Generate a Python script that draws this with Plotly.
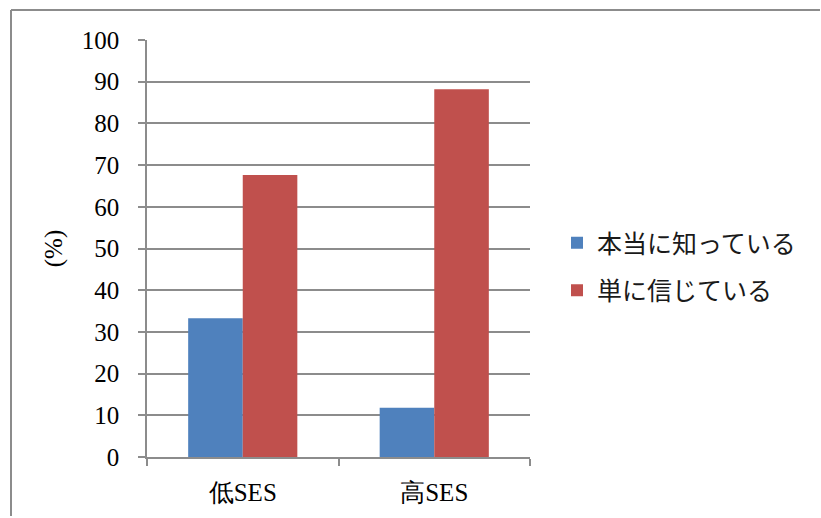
import plotly.graph_objects as go

# Data
categories = ["低SES", "高SES"]
series_names = ["本当に知っている", "単に信じている"]
truly_know = [33.3, 11.8]
just_believe = [67.6, 88.2]
y_ticks = [0, 10, 20, 30, 40, 50, 60, 70, 80, 90, 100]

W, H = 821, 518
ML, MR, MT, MB = 147, 291, 40, 61
PW, PH = W - ML - MR, H - MT - MB

serif = "Liberation Serif, Times New Roman, serif"
gothic = "Noto Sans CJK JP"

fig = go.Figure()
fig.add_trace(go.Bar(x=categories, y=truly_know, name=series_names[0],
                     marker=dict(color="#4F81BD", line=dict(width=0)),
                     legendgroup="a"))
fig.add_trace(go.Bar(x=categories, y=just_believe, name=series_names[1],
                     marker=dict(color="#C0504D", line=dict(width=0)),
                     legendgroup="b"))

# outer chart frame: top and left edges, running to the page borders
fx0 = (11 - ML) / PW
fx1 = (W - 1 - ML) / PW
fy1 = 1 + (MT - 10) / PH
fy0 = 1 - (H - 2 - MT) / PH
frame = dict(color="#8c8c8c", width=2)
fig.add_shape(type="line", xref="paper", yref="paper",
              x0=fx0, x1=fx1, y0=fy1, y1=fy1, line=frame, layer="below")
fig.add_shape(type="line", xref="paper", yref="paper",
              x0=fx0, x1=fx0, y0=fy1, y1=fy0, line=frame, layer="below")

fig.update_layout(
    width=W, height=H,
    margin=dict(l=ML, r=MR, t=MT, b=MB, pad=0, autoexpand=False),
    paper_bgcolor="white", plot_bgcolor="white",
    barmode="group", bargap=0.43, bargroupgap=0,
    font=dict(family=serif, size=25, color="black"),
    showlegend=True,
    legend=dict(x=(575 - 18 - ML) / PW, y=1 - (266.5 - MT) / PH,
                xanchor="left", yanchor="middle",
                font=dict(family=gothic, size=25, color="#1a1a1a"),
                traceorder="grouped", tracegroupgap=12,
                bgcolor="rgba(0,0,0,0)"),
    xaxis=dict(type="category", showline=True, linecolor="#8c8c8c", linewidth=1.5,
               ticks="outside", tickson="boundaries", ticklen=7, tickcolor="#8c8c8c",
               tickwidth=1.5, showgrid=False, ticklabelstandoff=12,
               tickfont=dict(family=serif, size=25)),
    yaxis=dict(range=[0, 100], tickvals=y_ticks, showline=True, linecolor="#8c8c8c",
               linewidth=1.5, ticks="outside", ticklen=7, tickcolor="#8c8c8c",
               tickwidth=1.5, showgrid=True, gridcolor="#8c8c8c", gridwidth=1.5,
               zeroline=False, tickfont=dict(family=serif, size=25),
               ticklabelstandoff=14,
               title=dict(text="(%)", font=dict(family=serif, size=25), standoff=12)),
)

# keep the page itself from scrolling: the figure fills the whole window
page_js = ("document.documentElement.style.overflow='hidden';"
           "document.body.style.overflow='hidden';"
           "document.body.style.margin='0';")

fig.write_html("out.html", post_script=page_js)
